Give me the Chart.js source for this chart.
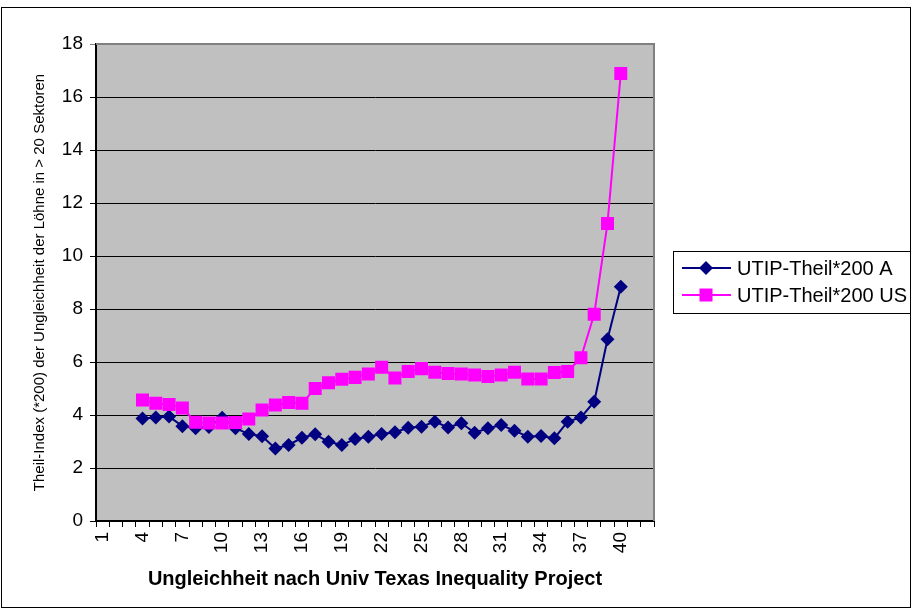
<!DOCTYPE html>
<html>
<head>
<meta charset="utf-8">
<script src="https://cdn.jsdelivr.net/npm/chart.js@4/dist/chart.umd.min.js"></script>
<style>
  html, body { margin: 0; padding: 0; background: #ffffff; }
  #wrap { width: 912px; height: 612px; }
</style>
</head>
<body>
<div id="wrap"><canvas id="c" width="912" height="612"></canvas></div>
<script>
// Category positions along the x axis (1 … 42)
const categories = ['1','2','3','4','5','6','7','8','9','10','11','12','13','14','15','16','17','18','19','20','21',
                    '22','23','24','25','26','27','28','29','30','31','32','33','34','35','36','37','38','39','40','41','42'];
// Only every third category gets a printed label
const tickLabels = ['1','4','7','10','13','16','19','22','25','28','31','34','37','40'];
const yTicks = [0, 2, 4, 6, 8, 10, 12, 14, 16, 18];

// UTIP-Theil*200, Austria
const seriesA = [null, null, null,
  3.87, 3.91, 3.94, 3.58, 3.50, 3.55, 3.90, 3.50, 3.28, 3.20, 2.74, 2.87, 3.14, 3.27, 2.99, 2.87, 3.09,
  3.18, 3.28, 3.35, 3.52, 3.56, 3.75, 3.53, 3.69, 3.33, 3.50, 3.62, 3.41, 3.18, 3.21, 3.12, 3.75, 3.91,
  4.50, 6.86, 8.84, null, null];
// UTIP-Theil*200, United States
const seriesUS = [null, null, null,
  4.57, 4.44, 4.40, 4.26, 3.73, 3.70, 3.70, 3.72, 3.85, 4.19, 4.38, 4.47, 4.44, 5.00, 5.22, 5.35, 5.42,
  5.55, 5.80, 5.40, 5.64, 5.75, 5.61, 5.57, 5.55, 5.51, 5.45, 5.51, 5.61, 5.36, 5.36, 5.60, 5.64, 6.16,
  7.80, 11.23, 16.89, null, null];

const seriesNames = ['UTIP-Theil*200 A', 'UTIP-Theil*200 US'];
const FONT = 'Arial, "Liberation Sans", sans-serif';

// Grey plot background and grey frame on top/right
const plotFrame = {
  id: 'plotFrame',
  beforeDraw(chart) {
    const {ctx, chartArea: a} = chart;
    ctx.save();
    ctx.fillStyle = '#ffffff';
    ctx.fillRect(0, 0, chart.width, chart.height);
    ctx.fillStyle = '#c0c0c0';
    ctx.fillRect(a.left, a.top, a.right - a.left, a.bottom - a.top);
    ctx.restore();
  },
  afterDraw(chart) {
    const {ctx, chartArea: a} = chart;
    ctx.save();
    ctx.strokeStyle = '#808080';
    ctx.lineWidth = 2;
    ctx.beginPath();
    ctx.moveTo(a.left, a.top);
    ctx.lineTo(a.right, a.top);
    ctx.lineTo(a.right, a.bottom);
    ctx.stroke();
    // outer chart border
    ctx.strokeStyle = '#000000';
    ctx.lineWidth = 1;
    ctx.strokeRect(1.5, 7.5, 909, 600);
    ctx.restore();
  }
};

// Boxed legend at the right of the plot
const boxLegend = {
  id: 'boxLegend',
  afterDraw(chart) {
    const {ctx} = chart;
    const box = {x: 673.5, y: 251.5, w: 237, h: 62};
    const rows = [268, 295];
    ctx.save();
    ctx.fillStyle = '#ffffff';
    ctx.fillRect(box.x, box.y, box.w, box.h);
    ctx.strokeStyle = '#000000';
    ctx.lineWidth = 1;
    ctx.strokeRect(box.x, box.y, box.w, box.h);
    chart.data.datasets.slice().sort((p, q) => p.legendIndex - q.legendIndex).forEach((ds, i) => {
      const y = rows[i];
      ctx.strokeStyle = ds.borderColor;
      ctx.lineWidth = 2;
      ctx.beginPath();
      ctx.moveTo(682, y);
      ctx.lineTo(731, y);
      ctx.stroke();
      ctx.fillStyle = ds.pointBackgroundColor;
      ctx.beginPath();
      if (ds.pointStyle === 'rectRot') {
        const r = ds.pointRadius;
        ctx.moveTo(706, y - r); ctx.lineTo(706 + r, y); ctx.lineTo(706, y + r); ctx.lineTo(706 - r, y);
      } else {
        const s = ds.pointRadius * Math.SQRT1_2;
        ctx.rect(706 - s, y - s, 2 * s, 2 * s);
      }
      ctx.closePath();
      ctx.fill();
      ctx.fillStyle = '#000000';
      ctx.font = '20px ' + FONT;
      ctx.textAlign = 'left';
      ctx.textBaseline = 'middle';
      ctx.fillText(ds.label, 737, y + 1);
    });
    ctx.restore();
  }
};

new Chart(document.getElementById('c'), {
  type: 'line',
  data: {
    labels: categories,
    datasets: [
      {
        label: seriesNames[1],
        legendIndex: 1,
        data: seriesUS,
        borderColor: '#ff00ff',
        backgroundColor: '#ff00ff',
        pointBackgroundColor: '#ff00ff',
        pointBorderColor: '#ff00ff',
        pointStyle: 'rect',
        pointRadius: 9.2,
        pointBorderWidth: 0,
        borderWidth: 2,
        tension: 0,
        spanGaps: false,
        order: 0
      },
      {
        label: seriesNames[0],
        legendIndex: 0,
        data: seriesA,
        borderColor: '#000080',
        backgroundColor: '#000080',
        pointBackgroundColor: '#000080',
        pointBorderColor: '#000080',
        pointStyle: 'rectRot',
        pointRadius: 7,
        pointBorderWidth: 0,
        borderWidth: 2,
        tension: 0,
        spanGaps: false,
        order: 1
      }
    ]
  },
  options: {
    responsive: false,
    animation: false,
    devicePixelRatio: 1,
    layout: { padding: { left: 0, top: 44, right: 258, bottom: 0 } },
    plugins: {
      legend: { display: false },
      tooltip: { enabled: false }
    },
    scales: {
      x: {
        type: 'category',
        offset: true,
        afterFit(scale) { scale.height = 91; },
        grid: {
          offset: true,
          drawOnChartArea: false,
          drawTicks: true,
          tickLength: 6,
          color: '#000000',
          lineWidth: 1
        },
        border: { display: true, color: '#000000', width: 2 },
        ticks: {
          autoSkip: false,
          minRotation: 90,
          maxRotation: 90,
          padding: 5,
          color: '#000000',
          font: { family: FONT, size: 19 },
          callback(value, index) {
            const lbl = categories[index];
            return tickLabels.includes(lbl) ? lbl : '';
          }
        },
        title: {
          display: true,
          text: 'Ungleichheit nach Univ Texas Inequality Project',
          color: '#000000',
          font: { family: FONT, size: 20, weight: 'bold' },
          padding: { top: 0, bottom: 21 }
        }
      },
      y: {
        min: 0,
        max: 18,
        afterFit(scale) { scale.width = 96; },
        afterBuildTicks(scale) { scale.ticks = yTicks.map(v => ({ value: v })); },
        grid: {
          color(ctx) { return ctx.tick && ctx.tick.value === 18 ? '#808080' : '#000000'; },
          lineWidth: 1,
          tickLength: 6,
          drawTicks: true
        },
        border: { display: true, color: '#000000', width: 2 },
        ticks: {
          padding: 7,
          color: '#000000',
          font: { family: FONT, size: 19 }
        },
        title: {
          display: true,
          text: 'Theil-Index (*200) der Ungleichheit der Löhne in > 20 Sektoren',
          color: '#000000',
          font: { family: FONT, size: 15 },
          padding: { top: 31, bottom: 0 }
        }
      }
    }
  },
  plugins: [plotFrame, boxLegend]
});
</script>
</body>
</html>
